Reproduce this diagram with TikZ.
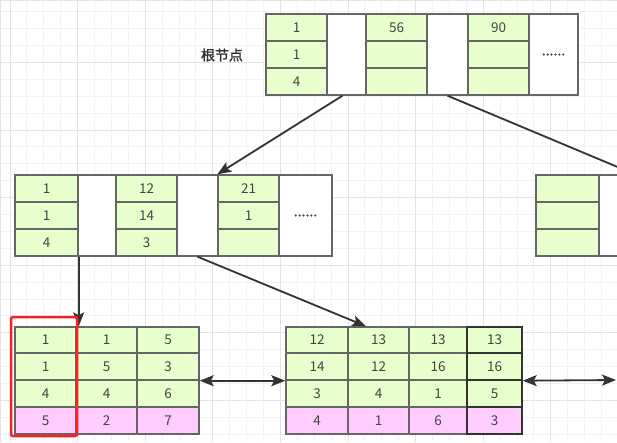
\documentclass[tikz,border=0pt]{standalone}
\usepackage{fontspec}
\setmainfont{Noto Sans CJK SC}
\newfontfamily\labelfont[FakeBold=1.5]{Noto Sans CJK SC}
\usetikzlibrary{arrows.meta,calc}

\definecolor{keygreen}{HTML}{E6FFCC}
\definecolor{datapink}{HTML}{FFCCFF}
\definecolor{cellline}{HTML}{666666}
\definecolor{darkline}{HTML}{333333}
\definecolor{txt}{HTML}{444444}
\definecolor{gridminor}{HTML}{F2F2F2}
\definecolor{gridmajor}{HTML}{E3E3E3}
\definecolor{markred}{HTML}{FF1F1F}

\tikzset{
  cellbox/.style={draw=cellline, line width=1.4pt, inner sep=0pt, text=txt,
    font=\fontsize{13.5}{13.5}\selectfont},
  key/.style={cellbox, fill=keygreen},
  data/.style={cellbox, fill=datapink},
  ptr/.style={cellbox, fill=white},
  lastcol/.style={draw=darkline},
  tip/.tip={Stealth[length=14pt,width=11pt,inset=3pt]},
  link/.style={draw=darkline, line width=1.8pt, -tip},
  duplex/.style={draw=darkline, line width=1.8pt, tip-tip},
}

% one cell: name, left, top, right, bottom, style, text
\newcommand\cellat[7]{%
  \pgfmathsetmacro\cellW{#4-#2}\pgfmathsetmacro\cellH{#5-#3}%
  \node[#6, minimum width=\cellW pt, minimum height=\cellH pt] (#1)
    at ({(#2+#4)/2},{(#3+#5)/2}) {#7};}
% a column of three key cells between the rows \rowA..\rowD; #7 adds more
\newcommand\keycol[7]{%
  \cellat{#11}{#2}{\rowA}{#3}{\rowB}{key}{#4}
  \cellat{#12}{#2}{\rowB}{#3}{\rowC}{key}{#5}
  \cellat{#13}{#2}{\rowC}{#3}{\rowD}{key}{#6}#7}
\newcommand\moredots{{\labelfont\fontsize{14}{14}\selectfont ......}}

\begin{document}
\begin{tikzpicture}[x=1pt, y=-1pt]
  \clip (0,0) rectangle (617,442);
  \fill[white] (0,0) rectangle (617,442);

  % background grid
  \foreach \i in {0,...,36}
    \draw[gridminor, line width=1pt] ({10+16.9*\i},0) -- ({10+16.9*\i},442);
  \foreach \j in {0,...,27}
    \draw[gridminor, line width=1pt] (0,{-5.2+16.9*\j}) -- (617,{-5.2+16.9*\j});
  \foreach \i in {0,...,9}
    \draw[gridmajor, line width=1pt] ({10+67.6*\i},0) -- ({10+67.6*\i},442);
  \foreach \j in {0,...,7}
    \draw[gridmajor, line width=1pt] (0,{-5.2+67.6*\j}) -- (617,{-5.2+67.6*\j});
  \draw[gridmajor, line width=1.5pt] (0.5,442) -- (0.5,0.5) -- (617,0.5);

  % root node
  \def\rowA{14}\def\rowB{41}\def\rowC{68}\def\rowD{95}
  \keycol{ra}{266}{327}{1}{1}{4}{}
  \cellat{rp1}{327}{14}{366}{95}{ptr}{}
  \keycol{rb}{366}{427}{56}{}{}{}
  \cellat{rp2}{427}{14}{468}{95}{ptr}{}
  \keycol{rc}{468}{529}{90}{}{}{}
  \cellat{rmore}{529}{14}{578}{95}{ptr}{\moredots}
  \node[font=\labelfont\fontsize{14}{14}\selectfont, text=darkline] (rootlabel)
    at (222,55) {根节点};

  % second level, left node
  \def\rowA{175}\def\rowB{202}\def\rowC{229}\def\rowD{256}
  \keycol{ma}{15}{78}{1}{1}{4}{}
  \cellat{mp1}{78}{175}{116}{256}{ptr}{}
  \keycol{mb}{116}{177}{12}{14}{3}{}
  \cellat{mp2}{177}{175}{218}{256}{ptr}{}
  \keycol{mc}{218}{279}{21}{1}{}{}
  \cellat{mmore}{279}{175}{332}{256}{ptr}{\moredots}

  % second level, right node
  \keycol{na}{536}{599}{}{}{}{}
  \cellat{np}{599}{175}{671}{256}{ptr}{}

  % leaf rows
  \def\rowA{327}\def\rowB{353}\def\rowC{380}\def\rowD{407}
  % left leaf
  \keycol{la}{15}{76}{1}{1}{4}{\cellat{la4}{15}{407}{76}{434}{data}{5}}
  \keycol{lb}{76}{137}{1}{5}{4}{\cellat{lb4}{76}{407}{137}{434}{data}{2}}
  \keycol{lc}{137}{199}{5}{3}{6}{\cellat{lc4}{137}{407}{199}{434}{data}{7}}
  % middle leaf
  \keycol{ka}{286}{348}{12}{14}{3}{\cellat{ka4}{286}{407}{348}{434}{data}{4}}
  \keycol{kb}{348}{409}{13}{12}{4}{\cellat{kb4}{348}{407}{409}{434}{data}{1}}
  \keycol{kc}{409}{467}{13}{16}{1}{\cellat{kc4}{409}{407}{467}{434}{data}{6}}
  \cellat{kd1}{467}{327}{522}{353}{key,lastcol}{13}
  \cellat{kd2}{467}{353}{522}{380}{key,lastcol}{16}
  \cellat{kd3}{467}{380}{522}{407}{key,lastcol}{5}
  \cellat{kd4}{467}{407}{522}{434}{data,lastcol}{3}
  \coordinate (nextleaf) at (616,380);

  % pointers
  \draw[link] ($(rp1.south west)!0.4!(rp1.south east)$) -- (mc1.north west);
  \draw[link] (rp2.south) -- (np.north);
  \draw[link] (ma3.south east) -- (ma3.south east |- la1.north);
  \draw[link] (mp2.south) -- ($(kb1.north west)!0.3!(kb1.north east)$);
  \draw[duplex] (lc2.south east) -- (ka2.south west);
  \draw[duplex] (kd2.south east) -- (nextleaf);

  % highlighted first column
  \node[draw=markred, line width=2.5pt, rounded corners=2pt, inner sep=0pt,
        minimum width=66pt, minimum height=119pt] (mark) at (44,376.5) {};
\end{tikzpicture}
\end{document}
